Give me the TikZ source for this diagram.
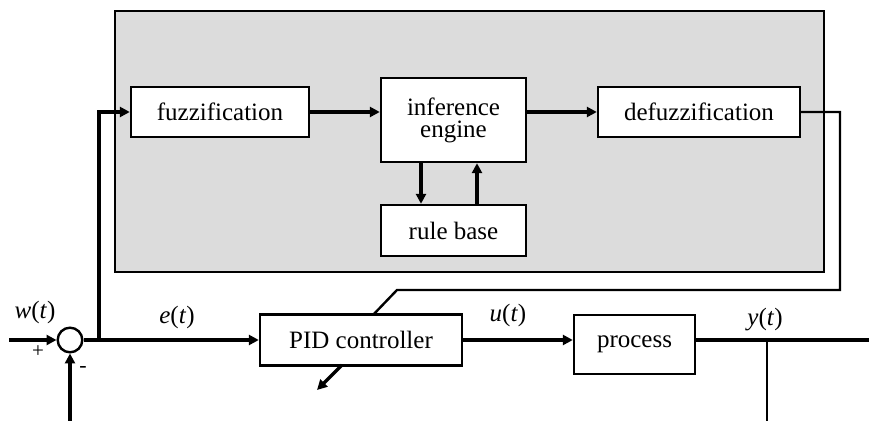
\documentclass[tikz,border=0pt]{standalone}
\usepackage{fontspec}
\setmainfont{Liberation Serif}
\usetikzlibrary{arrows.meta}
\definecolor{panel}{HTML}{DCDCDC}
\tikzset{
  blk/.style={draw, line width=1.2pt, fill=white, inner sep=0pt, align=center, font=\fontsize{12.5pt}{13pt}\selectfont},
  arr/.style={line width=1.6pt, -{Triangle[length=5pt,width=5pt]}},
  ln/.style={line width=1.6pt},
  thinln/.style={line width=1.2pt},
  lbl/.style={font=\fontsize{12.5pt}{14pt}\selectfont, inner sep=0pt},
}
\begin{document}
\begin{tikzpicture}[x=0.5pt,y=-0.5pt]
\useasboundingbox (0,0) rectangle (869,421);
\draw[fill=panel, line width=1.2pt] (115,11) rectangle (824,272);
\node[blk, minimum width=89pt, minimum height=25pt] (fuzz) at (220,112) {fuzzification};
\node[blk, minimum width=72.5pt, minimum height=42pt] (eng) at (453.5,120) {inference\\[-2pt]engine};
\node[blk, minimum width=72.5pt, minimum height=25.5pt] (rule) at (453.5,230.5) {rule base};
\node[blk, minimum width=101pt, minimum height=25pt] (defz) at (699,112) {defuzzification};
\node[blk, minimum width=101pt, minimum height=25.5pt] (pid) at (361,340) {PID controller};
\node[blk, minimum width=60.5pt, minimum height=29.5pt] (proc) at (634.5,344.5) {process};
\node[draw, circle, line width=1.2pt, minimum size=12.3pt, inner sep=0pt] (sum) at (70,340) {};
% coordinates
\coordinate (dn) at (421,0);
\coordinate (up) at (477,0);
\coordinate (fr) at (840,112);
\coordinate (fb1) at (840,290);
\coordinate (fb2) at (397,290);
\coordinate (fb3) at (373,315);
\coordinate (fb4) at (342,365);
\coordinate (fb5) at (317,390);
\coordinate (br) at (99,340);
\coordinate (win) at (9,340);
\coordinate (yin) at (70,421);
\coordinate (yout) at (869,340);
\coordinate (ybr) at (767,340);
\coordinate (ybot) at (767,421);
% inner connectors
\draw[arr] (fuzz.east) -- (fuzz.east -| eng.west);
\draw[arr] (eng.east |- defz.west) -- (defz.west);
\draw[arr] (dn |- eng.south) -- (dn |- rule.north);
\draw[arr] (up |- rule.north) -- (up |- eng.south);
% feedback from defuzzification
\draw[thinln] (defz.east) -- (fr) -- (fb1) -- (fb2) -- (fb3);
\draw[arr] (fb4) -- (fb5);
% main loop
\draw[arr] (win) -- (sum.west);
\draw[arr] (yin) -- (sum.south);
\draw[arr] (sum.east) -- (pid.west);
\draw[arr] (br) |- (fuzz.west);
\draw[arr] (pid.east) -- (pid.east -| proc.west);
\draw[ln] (proc.east |- yout) -- (yout);
\draw[thinln] (ybr) -- (ybot);
% labels
\node[lbl] (lw) at (35,312) {\textit{w}(\textit{t})};
\node[lbl] (lp) at (38,352) {\fontsize{10.5pt}{11pt}\selectfont +};
\node[lbl] (lm) at (83,370) {\fontsize{11pt}{11pt}\selectfont -};
\node[lbl] (le) at (177,317) {\textit{e}(\textit{t})};
\node[lbl] (lu) at (508,315) {\textit{u}(\textit{t})};
\node[lbl] (ly) at (765,320) {\textit{y}(\textit{t})};
\end{tikzpicture}
\end{document}
